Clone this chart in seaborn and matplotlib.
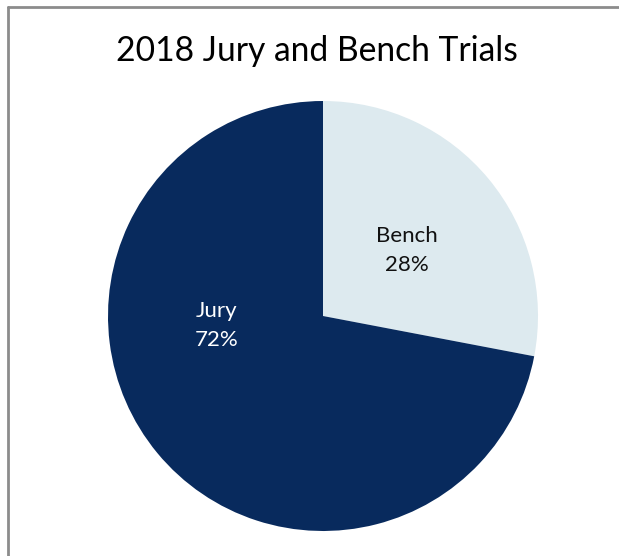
import matplotlib
matplotlib.use("Agg")
import matplotlib.pyplot as plt
import seaborn as sns

sns.set_theme(style="white")
plt.rcParams['font.family'] = ['Lato', 'DejaVu Sans']

categories = ["Bench", "Jury"]
shares = [28, 72]
colors = ["#DDEAEF", "#082A5D"]
label_colors = ["#111111", "#FFFFFF"]
title = "2018 Jury and Bench Trials"

fig = plt.figure(figsize=(6.19, 5.56), dpi=100)
fig.patch.set_facecolor("white")

# chart area border (top and left only visible)
fig.add_artist(plt.Line2D([7.5/619, 1.0], [1 - 6.5/556, 1 - 6.5/556], color="#8C8C8C", lw=2, transform=fig.transFigure))
fig.add_artist(plt.Line2D([7.5/619, 7.5/619], [0, 1 - 6.5/556], color="#8C8C8C", lw=2, transform=fig.transFigure))

ax = fig.add_axes([108/619, 25/556, 430/619, 430/556])
wedges, _ = ax.pie(shares, colors=colors, startangle=90, counterclock=False,
                   radius=1, wedgeprops=dict(linewidth=0))
ax.set_xlim(-1, 1)
ax.set_ylim(-1, 1)
ax.set_aspect("equal")
ax.axis("off")

label_pos = [(0.39, 0.305), (-0.495, -0.045)]
for cat, val, (x, y), c in zip(categories, shares, label_pos, label_colors):
    ax.text(x, y, f"{cat}\n{val}%", ha="center", va="center", color=c,
            fontsize=16, linespacing=1.6)

fig.text(317/619, 1 - 51/556, title, ha="center", va="center", fontsize=24.2, color="#000000")

fig.savefig("out.png", dpi=100)
